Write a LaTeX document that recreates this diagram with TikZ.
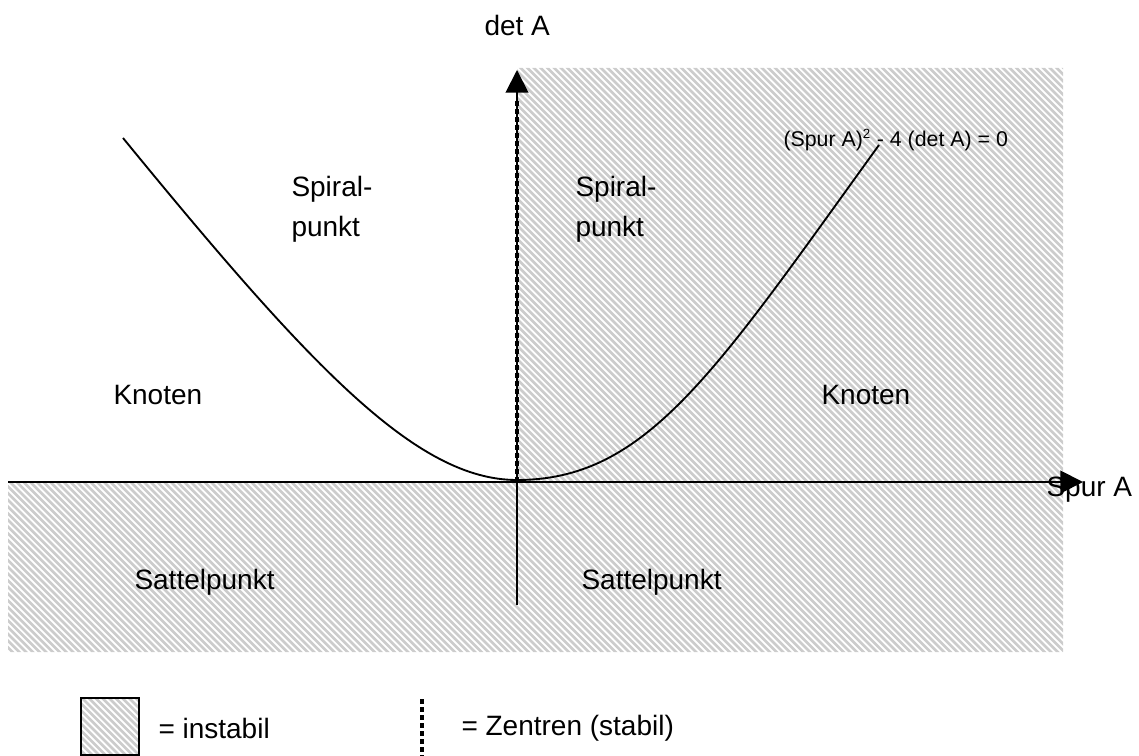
\documentclass[tikz,border=0pt]{standalone}
\usepackage{fontspec}
\setmainfont{Liberation Sans}
\usetikzlibrary{arrows.meta}

\tikzset{every picture/.style={line width=0.75pt}}
\tikzset{
  hatch/.style={draw=black!20, line width=2pt},
  axis/.style={line width=1.5pt, -{Triangle[length=17pt,width=17pt]}},
  zentren/.style={line width=3.6pt, dash pattern={on 3.4pt off 2.6pt}},
  label/.style={inner sep=0.75pt, font=\fontsize{21}{30}\selectfont, align=left}
}

\begin{document}
\begin{tikzpicture}[x=0.75pt,y=0.75pt,yscale=-1,xscale=1]
\useasboundingbox (0,0) rectangle (1139,756);

%Hatched area (instabil)
\begin{scope}
\clip (517,68) -- (1063,68) -- (1063,652) -- (8,652) -- (8,482) -- (517,482) -- cycle;
\foreach \c in {-760,-753.3,...,1140} \draw [hatch] (\c,0) -- ++(760,760);
\end{scope}

%Axes
\coordinate (o) at (517,482);
\coordinate (xl) at (8,482);
\coordinate (xr) at (1083,482);
\coordinate (yb) at (517,605);
\coordinate (yt) at (517,70);
\coordinate (zt) at (517,100);
\draw [axis] (xl) -- (xr);
\draw [axis] (yb) -- (yt);
\draw [zentren] (o) -- (zt);

%Curve (Spur A)^2 - 4 (det A) = 0
\coordinate (cl) at (123,138);
\coordinate (cv) at (517,480);
\coordinate (cr) at (879,145);
\draw [line width=1.4pt] (cl) .. controls (312,369) and (417,480) .. (cv) .. controls (647,480) and (715,372) .. (cr);

% Text Node
\node [label, anchor=west] (detA) at (483,25) {det A};
% Text Node
\node [label, anchor=west] (spurA) at (1045,490) {Spur A};
% Text Node
\node [inner sep=0.75pt, anchor=west, font=\fontsize{16}{19}\selectfont] (formel) at (782,140) {(Spur A)$^{\mbox{\fontsize{10}{12}\selectfont 2}}$ - 4 (det A) = 0};
% Text Node
\node [label, anchor=north west] (spiralL) at (290,175) {Spiral-\\punkt};
% Text Node
\node [label, anchor=north west] (spiralR) at (574,175) {Spiral-\\punkt};
% Text Node
\node [label, anchor=west] (knotenL) at (112,395) {Knoten};
% Text Node
\node [label, anchor=west] (knotenR) at (820,395) {Knoten};
% Text Node
\node [label, anchor=west] (sattelL) at (133,582) {Sattelpunkt};
% Text Node
\node [label, anchor=west] (sattelR) at (580,582) {Sattelpunkt};

%Legend
\begin{scope}
\clip (81,698) rectangle (139,755);
\foreach \c in {-80,-73.3,...,150} \draw [hatch] (\c,690) -- ++(80,80);
\end{scope}
\draw [line width=1.5pt] (81,698) rectangle (139,755);
\coordinate (lt) at (422,699);
\coordinate (lb) at (422,756);
\draw [zentren] (lt) -- (lb);
% Text Node
\node [label, anchor=west] (instabil) at (157,728) {= instabil};
% Text Node
\node [label, anchor=west] (stabil) at (460,728) {= Zentren (stabil)};
\end{tikzpicture}
\end{document}
